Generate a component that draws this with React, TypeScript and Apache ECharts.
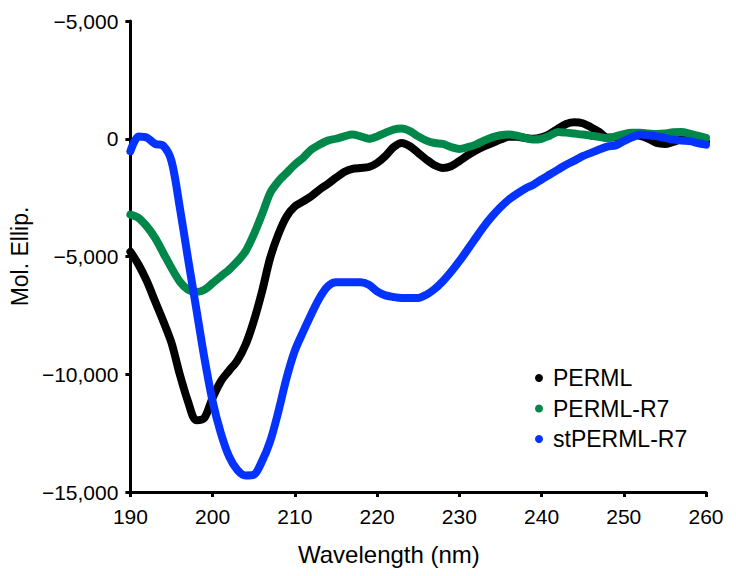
import React, { useEffect, useRef } from "react";
import * as echarts from "echarts";

const wavelengths = [
  190, 191, 192, 193, 194, 195, 196, 197, 198, 199,
  200, 201, 202, 203, 204, 205, 206, 207, 208, 209,
  210, 211, 212, 213, 214, 215, 216, 217, 218, 219,
  220, 221, 222, 223, 224, 225, 226, 227, 228, 229,
  230, 231, 232, 233, 234, 235, 236, 237, 238, 239,
  240, 241, 242, 243, 244, 245, 246, 247, 248, 249,
  250, 251, 252, 253, 254, 255, 256, 257, 258, 259, 260,
];

const perml = [
  -4800, -5350, -6050, -6900, -7750, -8670, -10000, -11150, -11950, -11850,
  -11000, -10300, -9850, -9420, -8750, -7750, -6500, -5060, -4050, -3300,
  -2870, -2660, -2440, -2160, -1920, -1660, -1410, -1280, -1240, -1200,
  -1030, -740, -360, -180, -320, -600, -885, -1125, -1240, -1170,
  -950, -710, -500, -320, -180, -35, 80, 80, 35, 0,
  60, 200, 430, 630, 700, 660, 490, 290, 50, 60,
  120, 160, 120, 0, -180, -220, -135, -35, -35, -80, -135,
];

const permlR7 = [
  -3220, -3360, -3720, -4210, -4850, -5490, -6060, -6410, -6510, -6410,
  -6130, -5840, -5560, -5210, -4780, -4070, -3220, -2300, -1810, -1450,
  -1100, -810, -460, -250, -80, 0, 100, 180, 100, 0,
  100, 250, 390, 430, 320, 100, -80, -180, -220, -350,
  -430, -360, -250, -80, 60, 150, 180, 130, 35, -35,
  0, 130, 290, 260, 220, 180, 130, 80, 20, 100,
  200, 250, 250, 220, 200, 220, 280, 290, 220, 130, 35,
];

const stPermlR7 = [
  -530, 100, 50, -220, -300, -950, -2900, -5080, -7190, -9310,
  -11150, -12500, -13490, -14060, -14300, -14270, -13700, -12850, -11580, -10150,
  -9000, -8200, -7450, -6760, -6270, -6090, -6090, -6090, -6090, -6200,
  -6480, -6650, -6720, -6760, -6760, -6760, -6620, -6380, -6050, -5650,
  -5200, -4710, -4210, -3720, -3290, -2910, -2590, -2340, -2120, -1950,
  -1730, -1520, -1310, -1100, -930, -740, -600, -460, -330, -280,
  -100, 60, 180, 150, 100, 35, -35, -80, -100, -180, -250,
];

const seriesNames = ["PERML", "PERML-R7", "stPERML-R7"];
const seriesColors = ["#000000", "#00884A", "#0433FF"];

const yTickValues = [-15000, -10000, -5000, 0, 5000];
const yTickLabels = ["\u221215,000", "\u221210,000", "\u22125,000", "0", "\u22125,000"];

const xTitle = "Wavelength (nm)";
const yTitle = "Mol. Ellip.";

const FONT = "'Liberation Sans', Arial, sans-serif";

export default function App() {
  const ref = useRef<HTMLDivElement>(null);

  useEffect(() => {
    document.body.style.margin = "0";
    if (!ref.current) return;
    const chart = echarts.init(ref.current, null, { renderer: "svg" });
    const allData = [perml, permlR7, stPermlR7];
    chart.setOption({
      animation: false,
      backgroundColor: "#ffffff",
      grid: { left: 118, right: 30, top: 21, bottom: 84, containLabel: false },
      legend: {
        orient: "vertical",
        left: 530,
        top: 361,
        icon: "circle",
        itemWidth: 18,
        itemHeight: 8,
        itemGap: 6.5,
        data: seriesNames,
        textStyle: { fontFamily: FONT, fontSize: 23, color: "#000", lineHeight: 24 },
      },
      graphic: [
        {
          type: "text",
          left: 389 - 91,
          top: 542,
          style: { text: xTitle, fontFamily: FONT, fontSize: 24, fill: "#000" },
        },
      ],
      xAxis: {
        type: "value",
        min: 190,
        max: 260,
        interval: 10,
        axisLine: { onZero: false, lineStyle: { color: "#000", width: 3 } },
        axisTick: { show: true, length: 5, lineStyle: { color: "#000", width: 3 } },
        axisLabel: { fontFamily: FONT, fontSize: 21, color: "#000", margin: 14 },
        splitLine: { show: false },
      },
      yAxis: {
        type: "value",
        min: -15000,
        max: 5000,
        interval: 5000,
        name: yTitle,
        nameLocation: "middle",
        nameGap: 82,
        nameTextStyle: { fontFamily: FONT, fontSize: 23, color: "#000" },
        axisLine: { show: true, onZero: false, lineStyle: { color: "#000", width: 3 } },
        axisTick: { show: true, length: 5, lineStyle: { color: "#000", width: 3 } },
        axisLabel: {
          fontFamily: FONT,
          fontSize: 21,
          color: "#000",
          margin: 12,
          formatter: (v: number) => {
            const i = yTickValues.indexOf(v);
            return i >= 0 ? yTickLabels[i] : "";
          },
        },
        splitLine: { show: false },
      },
      series: seriesNames.map((name, si) => ({
        name,
        type: "line",
        data: wavelengths.map((w, i) => [w, allData[si][i]]),
        showSymbol: false,
        symbol: "circle",
        smooth: 0.3,
        itemStyle: { color: seriesColors[si] },
        lineStyle: { color: seriesColors[si], width: 8, cap: "round", join: "round" },
        z: 2 + si,
      })),
    });
    return () => chart.dispose();
  }, []);

  return <div ref={ref} style={{ width: 736, height: 576 }} />;
}
